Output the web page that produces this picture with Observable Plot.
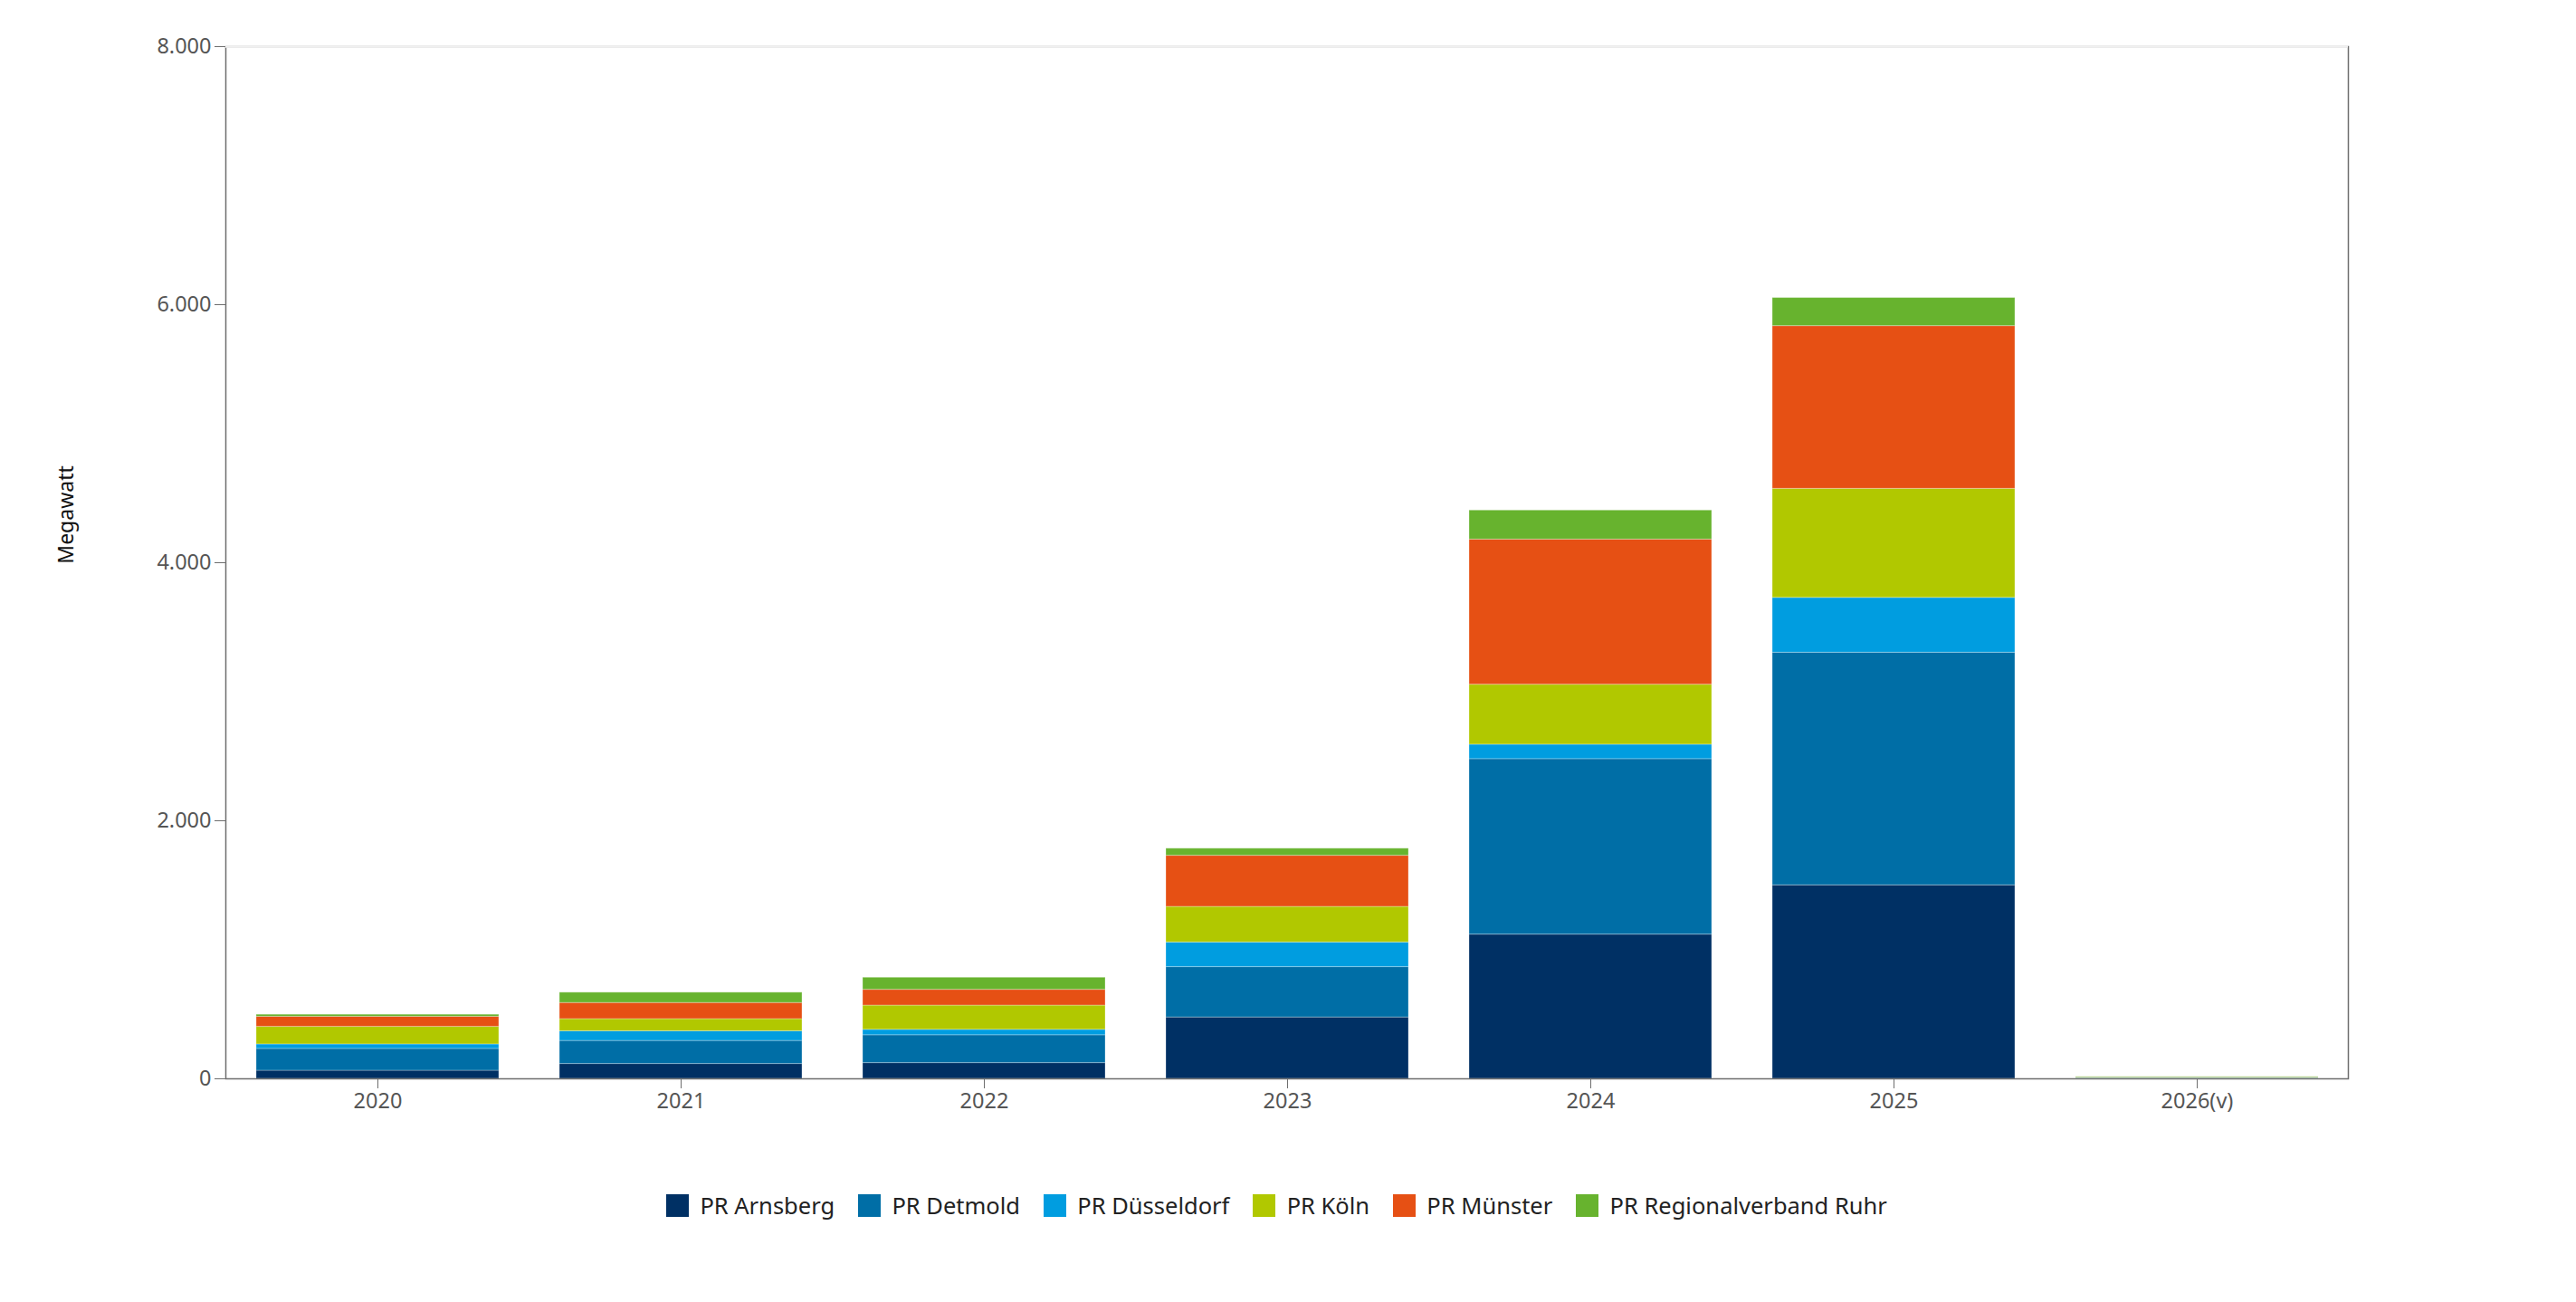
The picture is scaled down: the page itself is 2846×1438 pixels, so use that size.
<!DOCTYPE html>
<html>
<head>
<meta charset="utf-8">
<script src="https://cdn.jsdelivr.net/npm/d3@7"></script>
<script src="https://cdn.jsdelivr.net/npm/@observablehq/plot@0.6"></script>
<style>
  html, body { margin: 0; padding: 0; background: #fff; }
  body { width: 2846px; height: 1438px; overflow: hidden; font-family: "Noto Sans", "Open Sans", sans-serif; }
  #legend { display: flex; justify-content: center; margin-top: 24px; }
</style>
</head>
<body>
<div id="chart"></div>
<div id="legend"></div>
<script>
const years = ["2020", "2021", "2022", "2023", "2024", "2025", "2026(v)"];
const regions = ["PR Arnsberg", "PR Detmold", "PR Düsseldorf", "PR Köln", "PR Münster", "PR Regionalverband Ruhr"];
const colors = ["#003064", "#006ea6", "#009de0", "#b1c800", "#e65014", "#67b32e"];
const arnsberg   = [63, 115, 122, 476, 1118, 1500, 2];
const detmold    = [169, 179, 216, 390, 1360, 1803, 2];
const duesseldorf= [35, 75, 42, 191, 112, 425, 2];
const koeln      = [136, 94, 188, 276, 465, 845, 2];
const muenster   = [78, 125, 122, 396, 1125, 1261, 2];
const ruhr       = [16, 80, 94, 55, 225, 218, 5];
const yTicks = [0, 2000, 4000, 6000, 8000];

const series = [arnsberg, detmold, duesseldorf, koeln, muenster, ruhr];
const data = [];
regions.forEach((r, i) => years.forEach((y, j) => data.push({year: y, region: r, value: series[i][j]})));

const de = d3.formatLocale({decimal: ",", thousands: ".", grouping: [3], currency: ["", " €"]});
const fmt = de.format(",d");

const plot = Plot.plot({
  width: 2846,
  height: 1290,
  marginLeft: 249,
  marginRight: 252,
  marginTop: 51,
  marginBottom: 99,
  style: {fontFamily: "'Noto Sans', 'Open Sans', sans-serif", fontSize: "23px", color: "#555", background: "#fff"},
  x: {domain: years, paddingInner: 0.2, paddingOuter: 0.1, label: null},
  y: {domain: [0, 8000], label: null},
  color: {domain: regions, range: colors},
  marks: [
    Plot.barY(data, {x: "year", y: "value", fill: "region", stroke: "white", strokeOpacity: 0.3, strokeWidth: 1}),
    Plot.frame({stroke: "#6e6e6e", strokeWidth: 1.5}),
    Plot.ruleY([8000], {stroke: "#f0f0f0", strokeWidth: 2.5}),
    Plot.axisY({ticks: yTicks, tickFormat: fmt, tickSize: 12, tickPadding: 4, fontSize: 23.5, stroke: "#6e6e6e", fill: "#555"}),
    Plot.axisX({tickSize: 11, tickPadding: 5, fontSize: 23.5, stroke: "#6e6e6e", fill: "#555"}),
    Plot.text(["Megawatt"], {frameAnchor: "left", dx: -176, dy: -53, rotate: -90, fontSize: 23, fill: "#111", textAnchor: "middle"})
  ]
});
document.getElementById("chart").appendChild(plot);

const legend = Plot.legend({
  color: {type: "ordinal", domain: regions, range: colors},
  legend: "swatches",
  swatchSize: 25,
  style: {fontFamily: "'Noto Sans', 'Open Sans', sans-serif", fontSize: "25.5px", color: "#222"}
});
document.getElementById("legend").appendChild(legend);
</script>
</body>
</html>
